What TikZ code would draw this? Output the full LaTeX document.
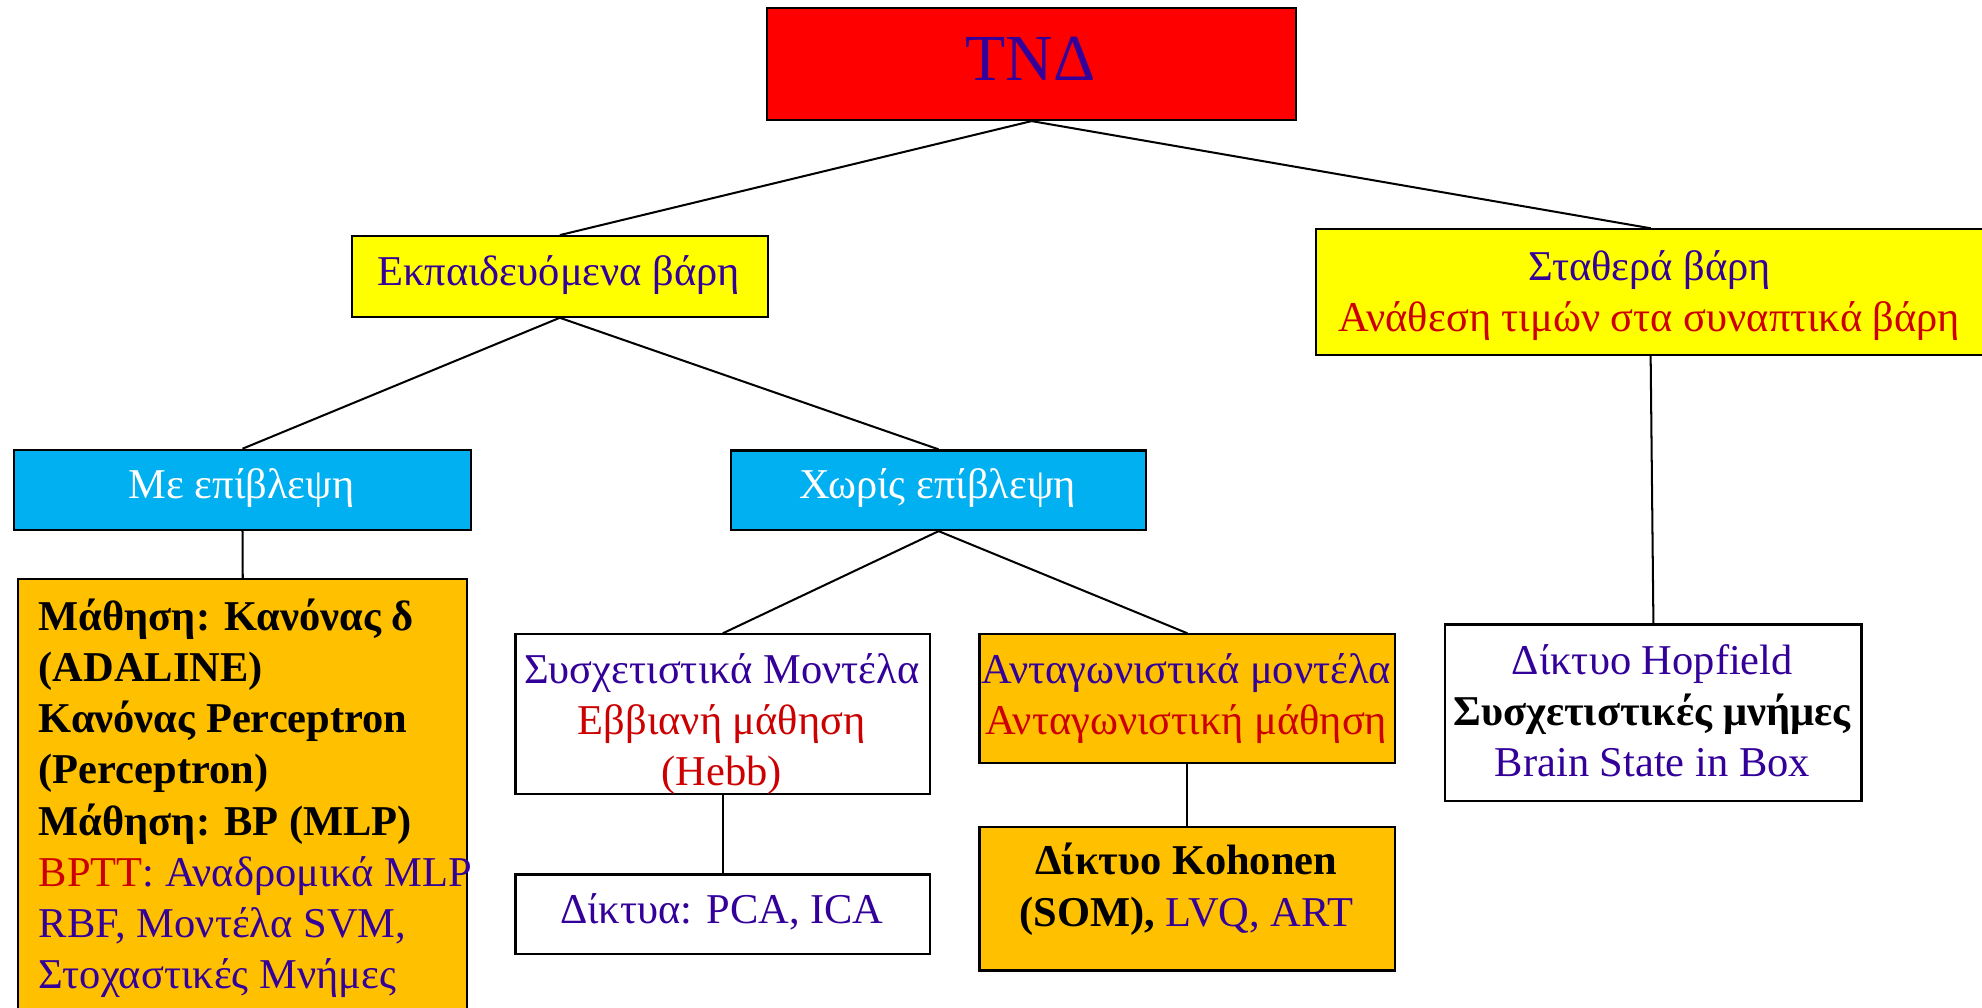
\documentclass[tikz,border=0pt]{standalone}
\usepackage{fontspec}
\setmainfont{Liberation Serif}

\definecolor{ink}{HTML}{330099}
\definecolor{darkred}{HTML}{CC0000}
\definecolor{boxred}{HTML}{FF0000}
\definecolor{boxyellow}{HTML}{FFFF00}
\definecolor{boxcyan}{HTML}{00B0F0}
\definecolor{boxorange}{HTML}{FFC000}

% fixed line pitch: 31.5pt above and 9pt below every baseline
\newcommand{\lstrut}{\rule[-9pt]{0pt}{40.5pt}}

\begin{document}
\begin{tikzpicture}[x=1pt, y=-1pt,
  box/.style={draw=black, line width=1.7pt, inner sep=0pt, anchor=north west},
  link/.style={draw=black, line width=1.6pt},
  body/.style={inner sep=0pt, font=\fontsize{33.6}{40.5}\selectfont},
  lines/.style={body, anchor=north, align=center},
  oneline/.style={body, anchor=base}]

\useasboundingbox (0,0) rectangle (1568,797);

% boxes
\node[box, fill=boxred, minimum width=418.5pt, minimum height=88.3pt] (tnd) at (606,5.8) {};
\node[box, fill=boxyellow, minimum width=329.3pt, minimum height=63.7pt] (train) at (277.4,186) {};
\node[box, fill=boxyellow, minimum width=530pt, minimum height=99.4pt] (fixed) at (1040,180.6) {};
\node[box, fill=boxcyan, minimum width=362pt, minimum height=63.5pt] (sup) at (10,355) {};
\node[box, fill=boxcyan, minimum width=328.4pt, minimum height=63pt] (unsup) at (577.5,355.5) {};
\node[box, fill=boxorange, minimum width=355pt, minimum height=400pt] (rules) at (13.7,457.5) {};
\node[box, fill=white, minimum width=328pt, minimum height=126.6pt] (assoc) at (407,501) {};
\node[box, fill=boxorange, minimum width=329pt, minimum height=101.6pt] (comp) at (774,501) {};
\node[box, fill=white, minimum width=328pt, minimum height=63pt] (pca) at (407,691) {};
\node[box, fill=boxorange, minimum width=329pt, minimum height=113.7pt] (koh) at (774,653.2) {};
\node[box, fill=white, minimum width=329.2pt, minimum height=139.8pt] (hop) at (1142.6,493.2) {};

% texts
\node[oneline, font=\fontsize{52}{60}\selectfont, text=ink] (tnd-text) at (815.3,63.3) {ΤΝΔ};
\node[oneline, text=ink] (train-text) at (442,226) {Εκπαιδευόμενα βάρη};
\node[lines] (fixed-text) at (1305,190.2)
  {\lstrut\textcolor{ink}{Σταθερά βάρη}\\
   \lstrut\textcolor{darkred}{Ανάθεση τιμών στα συναπτικά βάρη}};
\node[oneline, text=white] (sup-text) at (191,394.2) {Με επίβλεψη};
\node[oneline, text=white] (unsup-text) at (741.7,394.2) {Χωρίς επίβλεψη};
\node[body, anchor=north west, align=left] (rules-text) at (30.5,466.9)
  {\lstrut\textbf{Μάθηση: Κανόνας δ}\\
   \lstrut\textbf{(ADALINE)}\\
   \lstrut\textbf{Κανόνας Perceptron}\\
   \lstrut\textbf{(Perceptron)}\\
   \lstrut\textbf{Μάθηση: BP (MLP)}\\
   \lstrut\textcolor{darkred}{BPTT}\textcolor{ink}{: Αναδρομικά MLP}\\
   \lstrut\textcolor{ink}{RBF, Μοντέλα SVM,}\\
   \lstrut\textcolor{ink}{Στοχαστικές Μνήμες}};
\node[lines] (assoc-text) at (571,509.1)
  {\lstrut\textcolor{ink}{Συσχετιστικά Μοντέλα}\\
   \lstrut\textcolor{darkred}{Εββιανή μάθηση}\\
   \lstrut\textcolor{darkred}{(Hebb)}};
\node[lines] (comp-text) at (938.5,509.1)
  {\lstrut\textcolor{ink}{Ανταγωνιστικά μοντέλα}\\
   \lstrut\textcolor{darkred}{Ανταγωνιστική μάθηση}};
\node[oneline, text=ink] (pca-text) at (571,730.5) {Δίκτυα: PCA, ICA};
\node[lines] (koh-text) at (938.5,660.5)
  {\lstrut\textbf{Δίκτυο Kohonen}\\
   \lstrut\textbf{(SOM),} \textcolor{ink}{LVQ, ART}};
\node[lines] (hop-text) at (1307.2,501.8)
  {\lstrut\textcolor{ink}{Δίκτυο Hopfield}\\
   \lstrut\textbf{Συσχετιστικές μνήμες}\\
   \lstrut\textcolor{ink}{Brain State in Box}};

% tree connectors
\draw[link] (tnd.south) -- (train.north);
\draw[link] (tnd.south) -- (fixed.north);
\draw[link] (train.south) -- (sup.north);
\draw[link] (train.south) -- (unsup.north);
\draw[link] (sup.south) -- (rules.north);
\draw[link] (unsup.south) -- (assoc.north);
\draw[link] (unsup.south) -- (comp.north);
\draw[link] (assoc.south) -- (pca.north);
\draw[link] (comp.south) -- (koh.north);
\draw[link] (fixed.south) -- (hop.north);
\end{tikzpicture}
\end{document}
